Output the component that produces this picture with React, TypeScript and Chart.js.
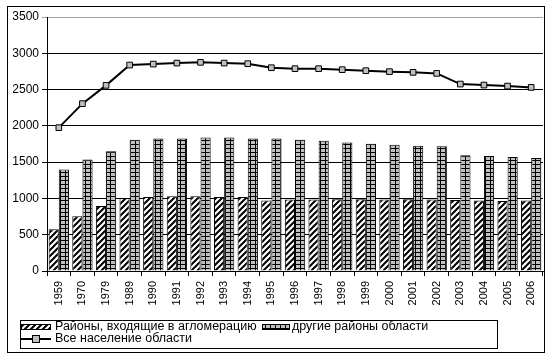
import React, { useEffect, useRef } from "react";
import { Chart, registerables } from "chart.js";

Chart.register(...registerables);

const years = ["1959","1970","1979","1989","1990","1991","1992","1993","1994","1995","1996","1997","1998","1999","2000","2001","2002","2003","2004","2005","2006"];
const agglomeration = [575,755,895,1005,1020,1030,1030,1020,1020,970,985,985,990,990,985,990,985,980,970,965,970];
const otherDistricts = [1400,1535,1650,1810,1825,1825,1840,1840,1825,1825,1810,1795,1770,1755,1740,1727,1718,1595,1585,1570,1556];
const totalPopulation = [1975,2306,2558,2838,2851,2865,2875,2865,2857,2801,2788,2788,2774,2760,2747,2737,2723,2576,2562,2548,2530];
const yTicks = [0,500,1000,1500,2000,2500,3000,3500];

const labelAgg = "Районы, входящие в агломерацию";
const labelOther = "другие районы области";
const labelTotal = "Все население области";

const FONT = "'Liberation Sans', Arial, sans-serif";

function makeHatch(ctx: CanvasRenderingContext2D) {
  const c = document.createElement("canvas");
  c.width = 6; c.height = 6;
  const g = c.getContext("2d")!;
  g.fillStyle = "#fff";
  g.fillRect(0, 0, 6, 6);
  g.strokeStyle = "#000";
  g.lineWidth = 2;
  g.beginPath();
  g.moveTo(-1, 7); g.lineTo(7, -1);
  g.moveTo(-1, 1); g.lineTo(1, -1);
  g.moveTo(5, 7); g.lineTo(7, 5);
  g.stroke();
  return ctx.createPattern(c, "repeat")!;
}

function makeGrid(ctx: CanvasRenderingContext2D) {
  const c = document.createElement("canvas");
  c.width = 5; c.height = 4;
  const g = c.getContext("2d")!;
  g.fillStyle = "#c0c0c0";
  g.fillRect(0, 0, 5, 4);
  g.fillStyle = "#000";
  g.fillRect(0, 0, 5, 1);
  g.fillRect(0, 0, 1, 4);
  return ctx.createPattern(c, "repeat")!;
}

export default function App() {
  const ref = useRef<HTMLCanvasElement>(null);
  useEffect(() => {
    document.body.style.margin = "0";
    const canvas = ref.current!;
    const ctx = canvas.getContext("2d")!;
    const hatch = makeHatch(ctx);
    const grid = makeGrid(ctx);

    const decor = {
      id: "decor",
      beforeDraw(chart: any) {
        const c = chart.ctx;
        c.save();
        c.fillStyle = "#fff";
        c.fillRect(0, 0, chart.width, chart.height);
        c.restore();
      },
      afterDraw(chart: any) {
        const c = chart.ctx as CanvasRenderingContext2D;
        c.save();
        c.strokeStyle = "#000";
        c.lineWidth = 1;
        c.strokeRect(7.5, 6.5, 537, 346);
        // legend box
        c.strokeRect(20.5, 320.5, 477, 28);
        c.font = "12.5px " + FONT;
        c.fillStyle = "#000";
        c.textBaseline = "middle";
        // item 1: hatch
        c.fillStyle = hatch;
        c.fillRect(21, 324, 30, 5);
        c.strokeRect(21.5, 324.5, 29, 5);
        c.fillStyle = "#000";
        c.fillText(labelAgg, 55, 327);
        // item 2: grid
        c.fillStyle = grid;
        c.fillRect(262, 324, 28, 5);
        c.strokeRect(262.5, 324.5, 27, 5);
        c.fillStyle = "#000";
        c.fillText(labelOther, 292, 327);
        // item 3: line + marker
        c.lineWidth = 2;
        c.beginPath();
        c.moveTo(21, 339);
        c.lineTo(51, 339);
        c.stroke();
        c.lineWidth = 1;
        c.fillStyle = "#c0c0c0";
        c.fillRect(32, 335, 8, 8);
        c.strokeRect(32.5, 335.5, 7, 7);
        c.fillStyle = "#000";
        c.fillText(labelTotal, 55, 339);
        c.restore();
      },
    };

    const chart = new Chart(canvas, {
      type: "bar",
      data: {
        labels: years,
        datasets: [
          {
            type: "line",
            label: labelTotal,
            data: totalPopulation,
            borderColor: "#000",
            borderWidth: 2,
            pointStyle: "rect",
            pointRadius: 4,
            pointBackgroundColor: "#c0c0c0",
            pointBorderColor: "#000",
            pointBorderWidth: 1,
            tension: 0,
            order: 0,
          } as any,
          {
            label: labelAgg,
            data: agglomeration,
            backgroundColor: hatch,
            borderColor: "#000",
            borderWidth: 1,
            categoryPercentage: 0.86,
            barPercentage: 1,
            order: 1,
          },
          {
            label: labelOther,
            data: otherDistricts,
            backgroundColor: grid,
            borderColor: "#000",
            borderWidth: 1,
            categoryPercentage: 0.86,
            barPercentage: 1,
            order: 1,
          },
        ],
      },
      options: {
        responsive: false,
        animation: false,
        layout: { padding: { left: 8, top: 17, right: 7, bottom: 44 } },
        plugins: { legend: { display: false }, tooltip: { enabled: false } },
        scales: {
          x: {
            grid: { offset: true, drawOnChartArea: false, tickLength: 5, color: "#000" },
            border: { color: "#000" },
            ticks: {
              minRotation: 90,
              maxRotation: 90,
              autoSkip: false,
              color: "#000",
              padding: 5,
              font: { family: FONT, size: 11 },
            },
            afterFit(scale: any) { scale.height = 45; },
          },
          y: {
            min: 0,
            max: 3500,
            afterBuildTicks(scale: any) { scale.ticks = yTicks.map((v) => ({ value: v })); },
            grid: {
              color: (c: any) => (c.tick && c.tick.value === 3500 ? "#a0a0a0" : "#000"),
              tickLength: 5,
            },
            border: { color: "#000" },
            ticks: {
              color: "#000",
              padding: 3,
              font: { family: FONT, size: 12 },
              callback: (v: any) => String(v),
            },
            afterFit(scale: any) { scale.width = 39; },
          },
        },
      },
      plugins: [decor],
    });
    return () => chart.destroy();
  }, []);
  return <canvas ref={ref} width={550} height={360} style={{ display: "block" }} />;
}
